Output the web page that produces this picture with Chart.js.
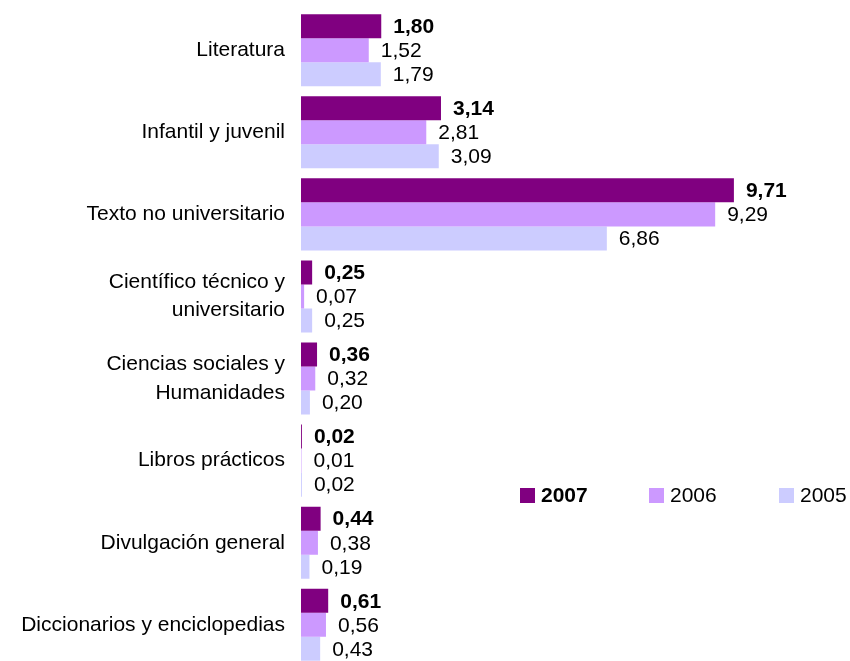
<!DOCTYPE html>
<html>
<head>
<meta charset="utf-8">
<script src="https://cdn.jsdelivr.net/npm/chart.js@4"></script>
<style>
    html, body { margin: 0; padding: 0; background: #fff; overflow: hidden; }
    #wrap { position: relative; width: 850px; height: 661px; overflow: hidden; }
    #chart { position: absolute; left: 0; top: -21px; }
    #legend { position: absolute; left: 520px; top: 484px; font-family: "Liberation Sans", Arial, sans-serif; font-size: 21px; color: #000; }
    #legend span.item { position: absolute; top: 0; white-space: nowrap; line-height: 22px; }
    #legend span.box { display: inline-block; width: 15px; height: 15px; margin-right: 6px; vertical-align: -1px; }
</style>
</head>
<body>
<div id="wrap">
    <canvas id="chart" width="850" height="717"></canvas>
    <div id="legend"></div>
</div>
<script>
// Datos
const categorias = [
    "Literatura",
    "Infantil y juvenil",
    "Texto no universitario",
    ["Científico técnico y", "universitario"],
    ["Ciencias sociales y", "Humanidades"],
    "Libros prácticos",
    "Divulgación general",
    "Diccionarios y enciclopedias"
];
const valores2007 = [1.80, 3.14, 9.71, 0.25, 0.36, 0.02, 0.44, 0.61];
const valores2006 = [1.52, 2.81, 9.29, 0.07, 0.32, 0.01, 0.38, 0.56];
const valores2005 = [1.79, 3.09, 6.86, 0.25, 0.20, 0.02, 0.19, 0.43];

const fuente = '"Liberation Sans", Arial, sans-serif';

// etiquetas de valor a la derecha de cada barra
const etiquetasPlugin = {
    id: 'etiquetas',
    afterDatasetsDraw(chart) {
        const ctx = chart.ctx;
        ctx.save();
        ctx.fillStyle = '#000';
        ctx.textBaseline = 'middle';
        ctx.textAlign = 'left';
        chart.data.datasets.forEach((ds, i) => {
            const meta = chart.getDatasetMeta(i);
            ctx.font = (i === 0 ? 'bold ' : '') + '21px ' + fuente;
            meta.data.forEach((bar, j) => {
                const txt = ds.data[j].toFixed(2).replace('.', ',');
                ctx.fillText(txt, bar.x + 12, bar.y + 1);
            });
        });
        ctx.restore();
    }
};

const ctx = document.getElementById("chart").getContext("2d");
let grafico = new Chart(ctx, {
    type: "bar",
    data: {
        labels: categorias,
        datasets: [
            { label: "2007", data: valores2007, backgroundColor: "#800080" },
            { label: "2006", data: valores2006, backgroundColor: "#CC99FF" },
            { label: "2005", data: valores2005, backgroundColor: "#CCCCFF" }
        ]
    },
    options: {
        indexAxis: 'y',
        responsive: false,
        animation: false,
        layout: { padding: { top: 8, right: 14, bottom: 0, left: 0 } },
        datasets: { bar: { categoryPercentage: 0.878, barPercentage: 1.0 } },
        plugins: {
            legend: { display: false },
            tooltip: { enabled: false }
        },
        scales: {
            x: {
                min: 0, max: 12,
                display: false
            },
            y: {
                grid: { display: false, drawTicks: false },
                border: { display: false },
                afterFit: scale => { scale.width = 301; },
                ticks: {
                    color: '#000',
                    padding: 16,
                    font: { family: fuente, size: 21, lineHeight: 1.35 }
                }
            }
        }
    },
    plugins: [etiquetasPlugin]
});

// leyenda
const leyenda = document.getElementById('legend');
const posiciones = [0, 129, 259];
grafico.data.datasets.forEach((ds, i) => {
    const item = document.createElement('span');
    item.className = 'item';
    item.style.left = posiciones[i] + 'px';
    item.innerHTML = `<span class="box" style="background:${ds.backgroundColor}"></span>` +
        (i === 0 ? `<b>${ds.label}</b>` : ds.label);
    leyenda.appendChild(item);
});
</script>
</body>
</html>
